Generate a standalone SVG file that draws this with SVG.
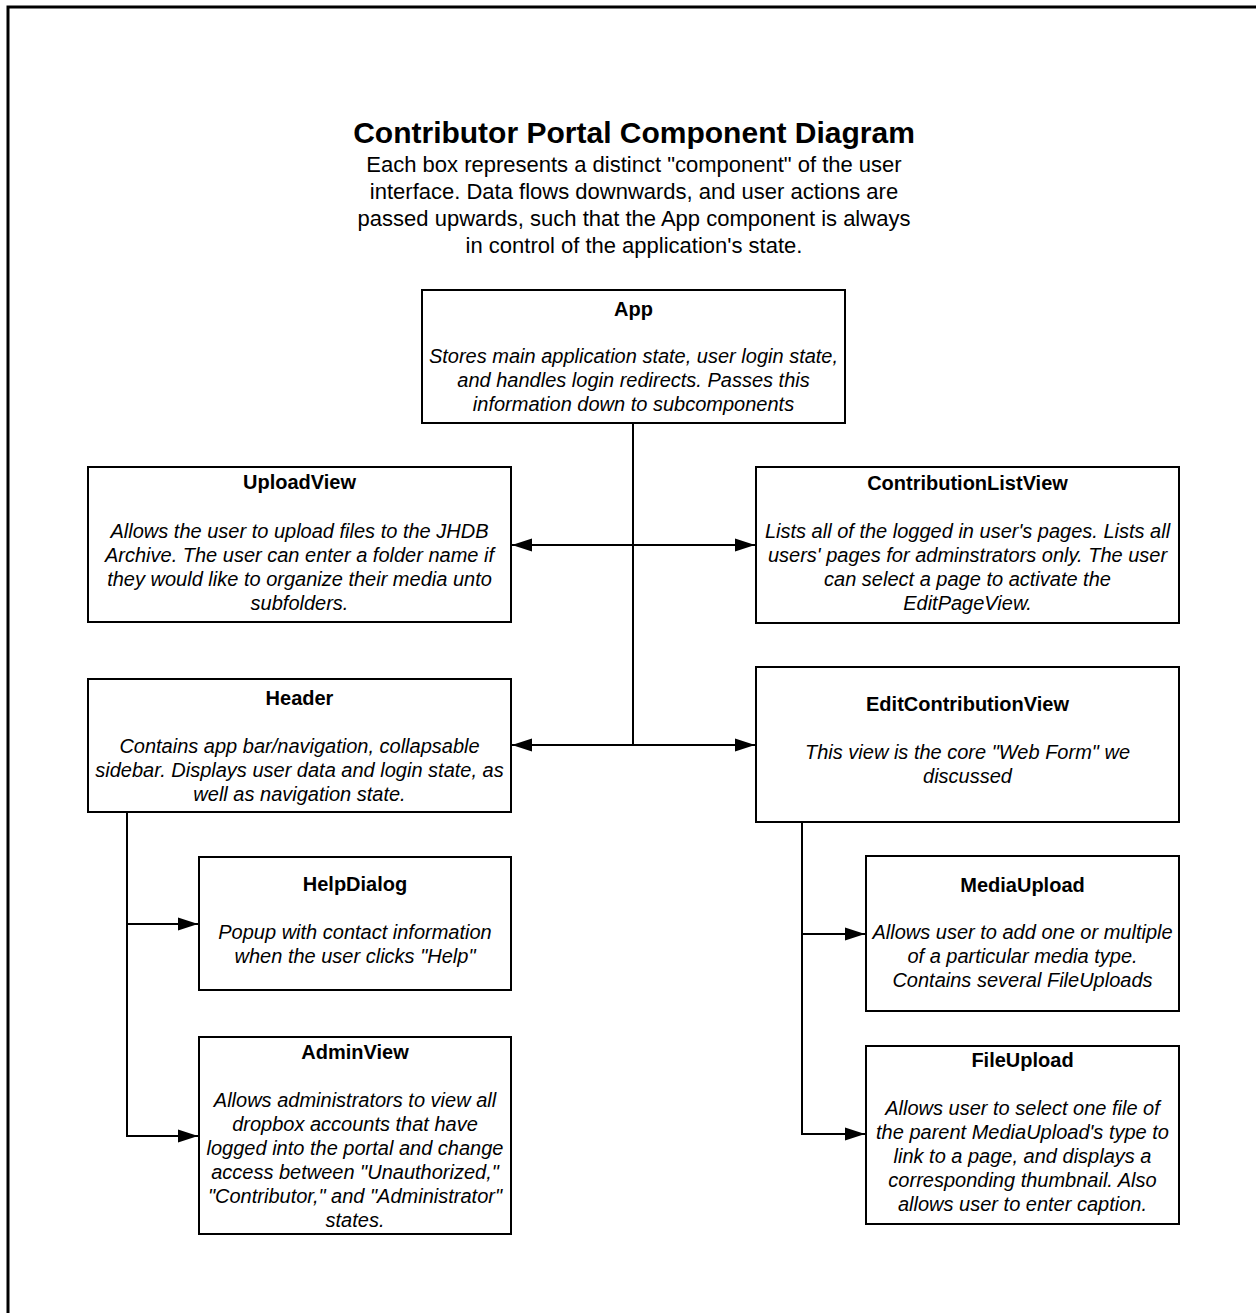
<svg xmlns="http://www.w3.org/2000/svg" width="1256" height="1313" viewBox="0 0 1256 1313">
<style>
.box{fill:#fff;stroke:#000;stroke-width:2}
.t{font-family:"Liberation Sans",Arial,sans-serif;font-size:20px;font-weight:bold;text-anchor:middle;fill:#000}
.b{font-family:"Liberation Sans",Arial,sans-serif;font-size:20px;font-style:italic;text-anchor:middle;fill:#000}
.h{font-family:"Liberation Sans",Arial,sans-serif;font-size:30px;font-weight:bold;text-anchor:middle;fill:#000}
.s{font-family:"Liberation Sans",Arial,sans-serif;font-size:22px;text-anchor:middle;fill:#000}
.c{fill:none;stroke:#000;stroke-width:2}
</style>
<defs>
<marker id="arr" markerUnits="userSpaceOnUse" markerWidth="20" markerHeight="14" refX="20" refY="7" orient="auto-start-reverse">
<path d="M0,0.5 L20,7 L0,13.5 z" fill="#000"/>
</marker>
</defs>
<rect width="1256" height="1313" fill="#fff"/>
<path d="M8 1313 V7 H1256" fill="none" stroke="#000" stroke-width="3"/>
<g id="title">
<text class="h" x="634" y="143">Contributor Portal Component Diagram</text>
<text class="s" x="634" y="172">Each box represents a distinct "component" of the user</text>
<text class="s" x="634" y="199">interface. Data flows downwards, and user actions are</text>
<text class="s" x="634" y="226">passed upwards, such that the App component is always</text>
<text class="s" x="634" y="253">in control of the application's state.</text>
</g>
<g id="connectors">
<path class="c" d="M633 423 V745"/>
<path class="c" d="M512 545 H755" marker-start="url(#arr)" marker-end="url(#arr)"/>
<path class="c" d="M512 745 H755" marker-start="url(#arr)" marker-end="url(#arr)"/>
<path class="c" d="M127 812 V1136 H198" marker-end="url(#arr)"/>
<path class="c" d="M127 924 H198" marker-end="url(#arr)"/>
<path class="c" d="M802 822 V1134 H865" marker-end="url(#arr)"/>
<path class="c" d="M802 934 H865" marker-end="url(#arr)"/>
</g>
<g id="app">
<rect class="box" x="422" y="290" width="423" height="133"/>
<text class="t" x="633.5" y="316">App</text>
<text class="b" x="633.5" y="363">Stores main application state, user login state,</text>
<text class="b" x="633.5" y="387">and handles login redirects. Passes this</text>
<text class="b" x="633.5" y="411">information down to subcomponents</text>
</g>
<g id="uploadview">
<rect class="box" x="88" y="467" width="423" height="155"/>
<text class="t" x="299.5" y="489">UploadView</text>
<text class="b" x="299.5" y="538">Allows the user to upload files to the JHDB</text>
<text class="b" x="299.5" y="562">Archive. The user can enter a folder name if</text>
<text class="b" x="299.5" y="586">they would like to organize their media unto</text>
<text class="b" x="299.5" y="610">subfolders.</text>
</g>
<g id="contributionlistview">
<rect class="box" x="756" y="467" width="423" height="156"/>
<text class="t" x="967.5" y="490">ContributionListView</text>
<text class="b" x="967.5" y="538">Lists all of the logged in user's pages. Lists all</text>
<text class="b" x="967.5" y="562">users' pages for adminstrators only. The user</text>
<text class="b" x="967.5" y="586">can select a page to activate the</text>
<text class="b" x="967.5" y="610">EditPageView.</text>
</g>
<g id="header">
<rect class="box" x="88" y="679" width="423" height="133"/>
<text class="t" x="299.5" y="705">Header</text>
<text class="b" x="299.5" y="753">Contains app bar/navigation, collapsable</text>
<text class="b" x="299.5" y="777">sidebar. Displays user data and login state, as</text>
<text class="b" x="299.5" y="801">well as navigation state.</text>
</g>
<g id="editcontributionview">
<rect class="box" x="756" y="667" width="423" height="155"/>
<text class="t" x="967.5" y="711">EditContributionView</text>
<text class="b" x="967.5" y="759">This view is the core "Web Form" we</text>
<text class="b" x="967.5" y="783">discussed</text>
</g>
<g id="helpdialog">
<rect class="box" x="199" y="857" width="312" height="133"/>
<text class="t" x="355" y="891">HelpDialog</text>
<text class="b" x="355" y="939">Popup with contact information</text>
<text class="b" x="355" y="963">when the user clicks "Help"</text>
</g>
<g id="adminview">
<rect class="box" x="199" y="1037" width="312" height="197"/>
<text class="t" x="355" y="1059">AdminView</text>
<text class="b" x="355" y="1107">Allows administrators to view all</text>
<text class="b" x="355" y="1131">dropbox accounts that have</text>
<text class="b" x="355" y="1155">logged into the portal and change</text>
<text class="b" x="355" y="1179">access between "Unauthorized,"</text>
<text class="b" x="355" y="1203">"Contributor," and "Administrator"</text>
<text class="b" x="355" y="1227">states.</text>
</g>
<g id="mediaupload">
<rect class="box" x="866" y="856" width="313" height="155"/>
<text class="t" x="1022.5" y="892">MediaUpload</text>
<text class="b" x="1022.5" y="939">Allows user to add one or multiple</text>
<text class="b" x="1022.5" y="963">of a particular media type.</text>
<text class="b" x="1022.5" y="987">Contains several FileUploads</text>
</g>
<g id="fileupload">
<rect class="box" x="866" y="1046" width="313" height="178"/>
<text class="t" x="1022.5" y="1067">FileUpload</text>
<text class="b" x="1022.5" y="1115">Allows user to select one file of</text>
<text class="b" x="1022.5" y="1139">the parent MediaUpload's type to</text>
<text class="b" x="1022.5" y="1163">link to a page, and displays a</text>
<text class="b" x="1022.5" y="1187">corresponding thumbnail. Also</text>
<text class="b" x="1022.5" y="1211">allows user to enter caption.</text>
</g>
</svg>
